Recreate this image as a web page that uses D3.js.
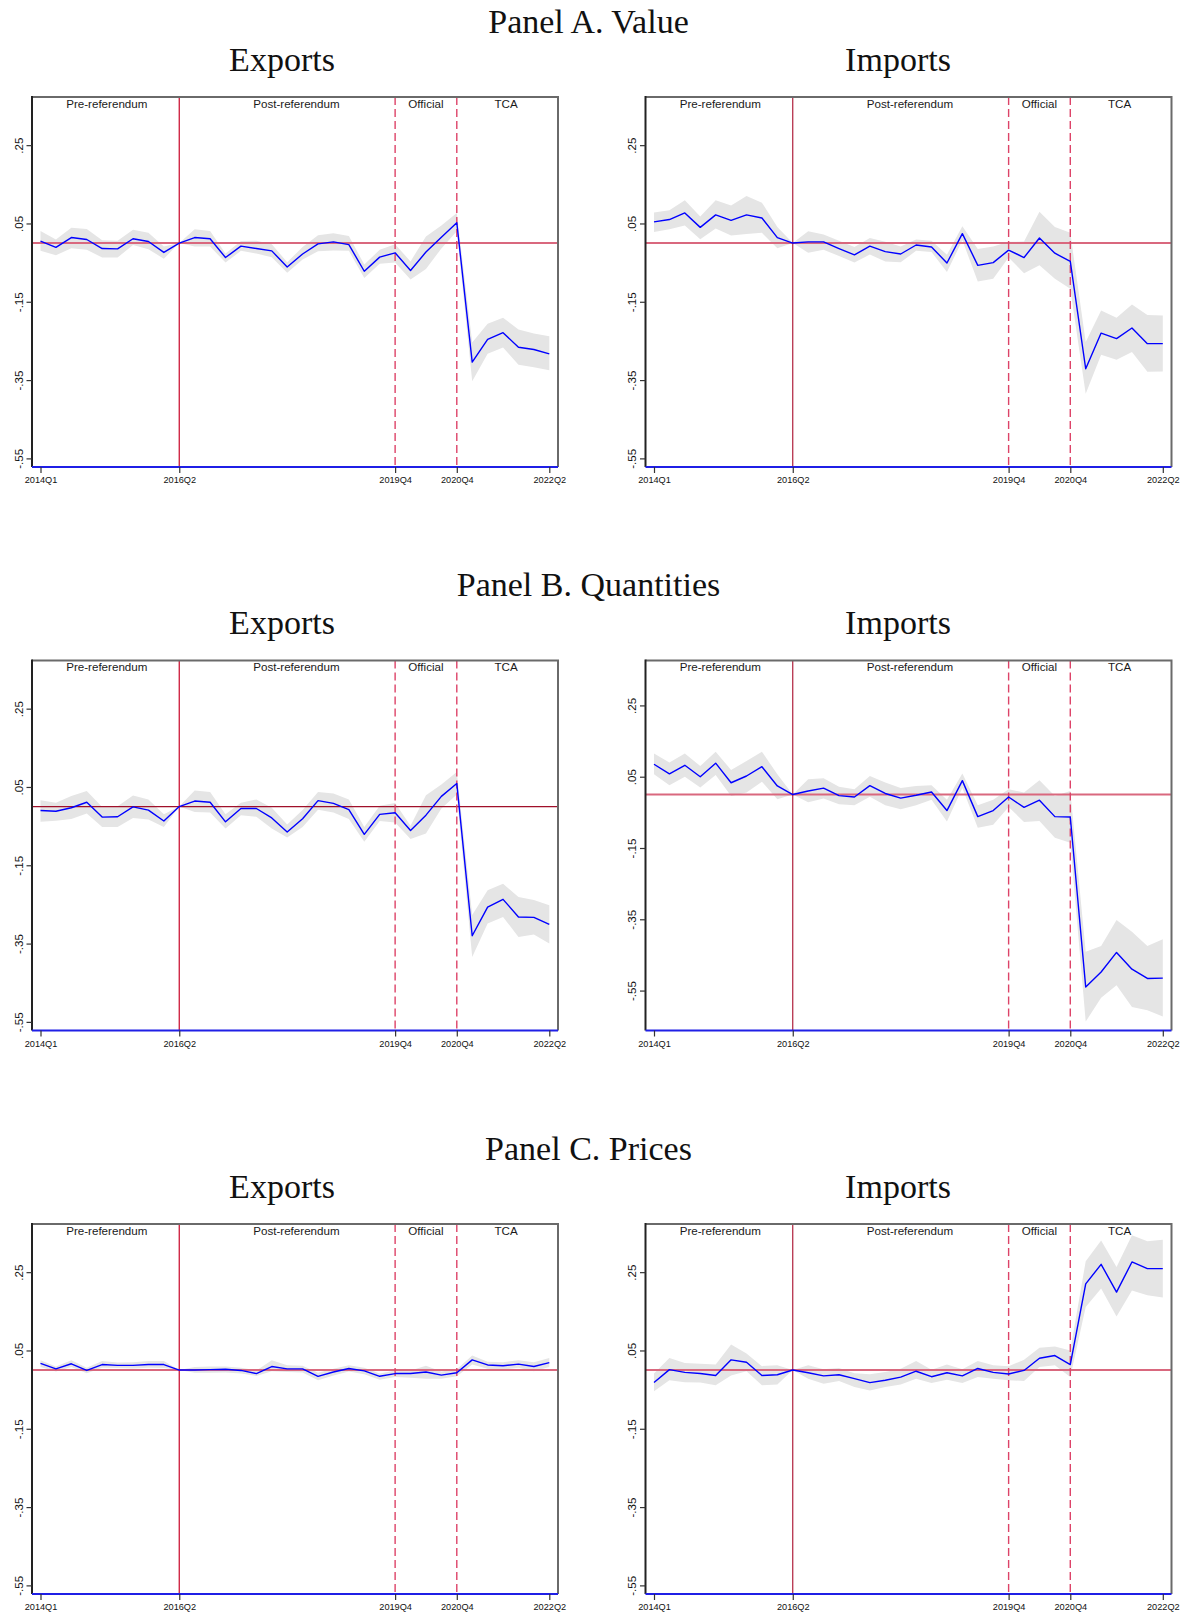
<!DOCTYPE html>
<html>
<head>
<meta charset="utf-8">
<script src="https://cdn.jsdelivr.net/npm/d3@7"></script>
<style>
  body { margin: 0; background: #fff; }
</style>
</head>
<body>
<svg id="chart" width="1186" height="1614"></svg>
<script>
// quarters on the x axis
const quarters = [
  '2014Q1','2014Q2','2014Q3','2014Q4','2015Q1','2015Q2','2015Q3','2015Q4',
  '2016Q1','2016Q2','2016Q3','2016Q4','2017Q1','2017Q2','2017Q3','2017Q4',
  '2018Q1','2018Q2','2018Q3','2018Q4','2019Q1','2019Q2','2019Q3','2019Q4',
  '2020Q1','2020Q2','2020Q3','2020Q4','2021Q1','2021Q2','2021Q3','2021Q4',
  '2022Q1','2022Q2'
];
const xTickQuarters = ['2014Q1', '2016Q2', '2019Q4', '2020Q4', '2022Q2'];
const yTicks = [0.25, 0.05, -0.15, -0.35, -0.55];
const yTickLabels = ['.25', '.05', '-.15', '-.35', '-.55'];

const referendumQuarter = '2016Q2';
const milestoneQuarters = ['2019Q4', '2020Q4'];
const phaseNames = ['Pre-referendum', 'Post-referendum', 'Official', 'TCA'];
const phaseLabelAt = [4.3, 16.6, 25, 30.2];   // in quarter index units

const panelTitles = ['Panel A. Value', 'Panel B. Quantities', 'Panel C. Prices'];
const flowTitles = ['Exports', 'Imports'];

const defaultDomain = [-0.572, 0.373];
const qtyImpDomain = [-0.662, 0.376];

// Panel A. Value
const valueExpEst = [0.005,-0.011,0.014,0.009,-0.014,-0.015,0.011,0.004,-0.024,0,0.014,0.011,-0.037,-0.008,-0.014,-0.020,-0.061,-0.028,-0.002,0.003,-0.004,-0.072,-0.036,-0.025,-0.070,-0.023,0.015,0.052,-0.304,-0.246,-0.229,-0.266,-0.272,-0.283];
const valueExpHi  = [0.031,0.009,0.039,0.036,0.007,0.006,0.034,0.026,-0.009,0,0.035,0.031,-0.027,0.005,0.006,-0.003,-0.049,-0.010,0.020,0.025,0.018,-0.055,-0.017,-0.003,-0.047,0.017,0.045,0.077,-0.254,-0.206,-0.191,-0.221,-0.231,-0.238];
const valueExpLo  = [-0.020,-0.031,-0.013,-0.017,-0.037,-0.037,-0.005,-0.016,-0.040,0,-0.009,-0.009,-0.050,-0.020,-0.027,-0.036,-0.076,-0.042,-0.021,-0.019,-0.020,-0.089,-0.053,-0.050,-0.093,-0.066,-0.014,0.030,-0.353,-0.283,-0.267,-0.311,-0.317,-0.325];

const valueImpEst = [0.054,0.060,0.077,0.040,0.072,0.058,0.072,0.064,0.014,0,0.003,0.003,-0.014,-0.030,-0.008,-0.022,-0.028,-0.005,-0.010,-0.051,0.024,-0.057,-0.050,-0.018,-0.037,0.013,-0.026,-0.047,-0.321,-0.230,-0.244,-0.217,-0.257,-0.257];
const valueImpHi  = [0.078,0.084,0.109,0.068,0.109,0.096,0.120,0.103,0.041,0,0.030,0.022,0.006,-0.010,0.013,0.003,-0.009,0.009,0.006,-0.030,0.043,-0.015,-0.009,0.003,0.004,0.080,0.041,0.026,-0.253,-0.172,-0.191,-0.157,-0.184,-0.185];
const valueImpLo  = [0.028,0.035,0.045,0.010,0.037,0.019,0.023,0.026,-0.013,0,-0.025,-0.017,-0.033,-0.050,-0.029,-0.047,-0.049,-0.020,-0.023,-0.074,0.007,-0.098,-0.091,-0.037,-0.077,-0.057,-0.091,-0.117,-0.385,-0.285,-0.298,-0.278,-0.329,-0.328];

// Panel B. Quantities
const qtyExpEst = [-0.010,-0.012,-0.003,0.011,-0.027,-0.026,-0.001,-0.009,-0.037,0,0.014,0.011,-0.039,-0.005,-0.005,-0.029,-0.065,-0.031,0.015,0.008,-0.008,-0.071,-0.020,-0.016,-0.061,-0.022,0.026,0.059,-0.330,-0.257,-0.237,-0.282,-0.283,-0.301];
const qtyExpHi  = [0.016,0.010,0.027,0.040,-0.001,0.001,0.028,0.018,-0.020,0,0.041,0.037,-0.020,0.010,0.018,-0.003,-0.046,-0.009,0.037,0.033,0.018,-0.052,0.002,0.009,-0.049,0.029,0.056,0.088,-0.277,-0.214,-0.197,-0.231,-0.239,-0.252];
const qtyExpLo  = [-0.039,-0.036,-0.032,-0.018,-0.052,-0.052,-0.029,-0.033,-0.052,0,-0.014,-0.015,-0.056,-0.022,-0.026,-0.056,-0.079,-0.052,-0.008,-0.015,-0.032,-0.090,-0.037,-0.041,-0.083,-0.069,-0.005,0.031,-0.384,-0.299,-0.282,-0.333,-0.327,-0.350];

const qtyImpEst = [0.085,0.058,0.082,0.050,0.088,0.033,0.052,0.078,0.024,0,0.010,0.018,-0.003,-0.007,0.025,0.003,-0.010,-0.002,0.007,-0.045,0.039,-0.062,-0.045,-0.007,-0.036,-0.016,-0.062,-0.063,-0.540,-0.498,-0.443,-0.490,-0.516,-0.515];
const qtyImpHi  = [0.115,0.090,0.115,0.080,0.120,0.069,0.094,0.120,0.057,0,0.043,0.046,0.022,0.015,0.052,0.034,0.018,0.024,0.026,-0.015,0.059,-0.030,-0.015,0.015,0.006,0.040,-0.004,0.010,-0.441,-0.425,-0.352,-0.385,-0.425,-0.406];
const qtyImpLo  = [0.057,0.026,0.050,0.020,0.055,-0.004,0.006,0.036,-0.013,0,-0.022,-0.011,-0.027,-0.030,-0.006,-0.030,-0.041,-0.030,-0.015,-0.076,0.018,-0.093,-0.085,-0.035,-0.077,-0.074,-0.121,-0.135,-0.637,-0.570,-0.535,-0.596,-0.605,-0.623];

// Panel C. Prices
const priceExpEst = [0.017,0.003,0.016,-0.001,0.014,0.012,0.012,0.014,0.014,0,0.000,0.001,0.002,-0.001,-0.009,0.009,0.003,0.003,-0.016,-0.005,0.004,-0.002,-0.016,-0.009,-0.009,-0.005,-0.013,-0.007,0.026,0.013,0.011,0.015,0.009,0.019];
const priceExpHi  = [0.025,0.009,0.025,0.006,0.023,0.019,0.020,0.023,0.023,0,0.008,0.009,0.009,0.006,-0.001,0.025,0.012,0.011,-0.007,0.003,0.012,0.006,-0.009,-0.001,-0.001,0.011,-0.004,0.002,0.037,0.021,0.020,0.025,0.020,0.031];
const priceExpLo  = [0.008,-0.004,0.008,-0.008,0.006,0.005,0.004,0.006,0.005,0,-0.007,-0.007,-0.006,-0.009,-0.015,-0.003,-0.005,-0.006,-0.026,-0.014,-0.004,-0.011,-0.025,-0.018,-0.020,-0.022,-0.022,-0.016,0.014,0.003,0.001,0.006,-0.003,0.008];

const priceImpEst = [-0.032,0.001,-0.006,-0.009,-0.014,0.026,0.020,-0.014,-0.012,0,-0.007,-0.015,-0.012,-0.022,-0.032,-0.026,-0.018,-0.003,-0.017,-0.007,-0.015,0.004,-0.006,-0.010,-0.001,0.030,0.037,0.014,0.220,0.270,0.199,0.276,0.259,0.259];
const priceImpHi  = [-0.009,0.031,0.018,0.016,0.014,0.065,0.042,0.010,0.012,0,0.012,0.002,0.005,-0.008,-0.011,-0.005,0.003,0.023,0.001,0.014,0.002,0.023,0.012,0.010,0.026,0.057,0.060,0.050,0.278,0.331,0.263,0.344,0.329,0.333];
const priceImpLo  = [-0.054,-0.026,-0.031,-0.032,-0.039,-0.014,-0.003,-0.039,-0.037,0,-0.022,-0.035,-0.028,-0.043,-0.052,-0.043,-0.037,-0.022,-0.033,-0.025,-0.033,-0.018,-0.022,-0.026,-0.028,0.008,0.012,-0.018,0.161,0.208,0.137,0.203,0.191,0.185];

const charts = [
  { row: 0, col: 0, est: valueExpEst, lo: valueExpLo, hi: valueExpHi },
  { row: 0, col: 1, est: valueImpEst, lo: valueImpLo, hi: valueImpHi },
  { row: 1, col: 0, est: qtyExpEst, lo: qtyExpLo, hi: qtyExpHi, darkZero: true },
  { row: 1, col: 1, est: qtyImpEst, lo: qtyImpLo, hi: qtyImpHi, domain: qtyImpDomain },
  { row: 2, col: 0, est: priceExpEst, lo: priceExpLo, hi: priceExpHi },
  { row: 2, col: 1, est: priceImpEst, lo: priceImpLo, hi: priceImpHi }
];

// layout
const panelTop = [97, 660.5, 1224];
const colLeft = [32, 645.5];
const frameW = 526, frameH = 370, padX = 8.5;
const sansFont = "'Liberation Sans', Arial, sans-serif";
const serifFont = "'Liberation Serif', 'Times New Roman', serif";

const svg = d3.select('#chart');

// section titles
panelTitles.forEach((t, r) => {
  svg.append('text')
    .attr('x', 588.5)
    .attr('y', panelTop[r] - 64.3)
    .attr('text-anchor', 'middle')
    .attr('font-family', serifFont)
    .attr('font-size', '34px')
    .attr('fill', '#111')
    .text(t);
  flowTitles.forEach((f, c) => {
    svg.append('text')
      .attr('x', [282, 898][c])
      .attr('y', panelTop[r] - 26.5)
      .attr('text-anchor', 'middle')
      .attr('font-family', serifFont)
      .attr('font-size', '34px')
      .attr('fill', '#111')
      .text(f);
  });
});

charts.forEach(c => {
  const left = colLeft[c.col];
  const top = panelTop[c.row];
  const bottom = top + frameH;

  const x = d3.scaleLinear()
    .domain([0, quarters.length - 1])
    .range([left + padX, left + frameW - padX - 0.2]);
  const y = d3.scaleLinear()
    .domain(c.domain || defaultDomain)
    .range([bottom, top]);

  const g = svg.append('g');
  const rows = quarters.map((q, i) => ({ i, est: c.est[i], lo: c.lo[i], hi: c.hi[i] }));

  // confidence band
  g.append('path')
    .datum(rows)
    .attr('d', d3.area().x(d => x(d.i)).y0(d => y(d.lo)).y1(d => y(d.hi)))
    .attr('fill', '#e5e5e5');

  // zero line
  g.append('line')
    .attr('x1', left).attr('x2', left + frameW)
    .attr('y1', y(0)).attr('y2', y(0))
    .attr('stroke', c.darkZero ? '#a0102a' : '#d9687e')
    .attr('stroke-width', c.darkZero ? 1.2 : 2);

  // referendum (solid) and later milestones (dashed)
  const refX = x(quarters.indexOf(referendumQuarter));
  g.append('line')
    .attr('x1', refX).attr('x2', refX)
    .attr('y1', top).attr('y2', bottom)
    .attr('stroke', c.col === 0 ? '#cc1838' : '#a80c2a')
    .attr('stroke-width', c.col === 0 ? 1.3 : 1.1);

  g.selectAll('.milestone')
    .data(milestoneQuarters)
    .enter()
    .append('line')
    .attr('class', 'milestone')
    .attr('x1', d => x(quarters.indexOf(d))).attr('x2', d => x(quarters.indexOf(d)))
    .attr('y1', top).attr('y2', bottom)
    .attr('stroke', '#dd4368')
    .attr('stroke-width', 1.4)
    .attr('stroke-dasharray', '8,4');

  // estimate line
  g.append('path')
    .datum(rows)
    .attr('d', d3.line().x(d => x(d.i)).y(d => y(d.est)))
    .attr('fill', 'none')
    .attr('stroke', '#0000ff')
    .attr('stroke-width', 1.4)
    .attr('stroke-linejoin', 'round');

  // phase labels
  g.selectAll('.phase')
    .data(phaseNames)
    .enter()
    .append('text')
    .attr('class', 'phase')
    .attr('x', (d, i) => x(phaseLabelAt[i]))
    .attr('y', top + 10.8)
    .attr('text-anchor', 'middle')
    .attr('font-family', sansFont)
    .attr('font-size', '11.6px')
    .attr('fill', '#1a1a1a')
    .text(d => d);

  // frame: gray top and right, dark left, blue bottom
  g.append('path')
    .attr('d', `M${left},${top}H${left + frameW}V${bottom}`)
    .attr('fill', 'none')
    .attr('stroke', '#6a6a6a')
    .attr('stroke-width', 2);
  g.append('line')
    .attr('x1', left).attr('x2', left)
    .attr('y1', top - 1).attr('y2', bottom)
    .attr('stroke', '#222')
    .attr('stroke-width', 2);
  g.append('line')
    .attr('x1', left).attr('x2', left + frameW)
    .attr('y1', bottom).attr('y2', bottom)
    .attr('stroke', '#1f1fe6')
    .attr('stroke-width', 2);

  // y axis
  const yAxis = g.append('g')
    .attr('transform', `translate(${left},0)`)
    .call(d3.axisLeft(y)
      .tickValues(yTicks)
      .tickFormat((d, i) => yTickLabels[i])
      .tickSize(5.5));
  yAxis.select('.domain').remove();
  yAxis.selectAll('line').attr('stroke', '#333').attr('stroke-width', 1.2);
  yAxis.selectAll('text')
    .attr('transform', 'rotate(-90)')
    .attr('x', 0)
    .attr('y', -9.5)
    .attr('dy', 0)
    .attr('text-anchor', 'middle')
    .attr('font-family', sansFont)
    .attr('font-size', '11.5px')
    .attr('fill', '#111');

  // x axis
  const xAxis = g.append('g')
    .attr('transform', `translate(0,${bottom})`)
    .call(d3.axisBottom(x)
      .tickValues(xTickQuarters.map(q => quarters.indexOf(q)))
      .tickFormat(i => quarters[i])
      .tickSize(6));
  xAxis.select('.domain').remove();
  xAxis.selectAll('line').attr('stroke', '#333').attr('stroke-width', 1.2);
  xAxis.selectAll('text')
    .attr('y', 16)
    .attr('dy', 0)
    .attr('font-family', sansFont)
    .attr('font-size', '9.2px')
    .attr('fill', '#111');
});
</script>
</body>
</html>
